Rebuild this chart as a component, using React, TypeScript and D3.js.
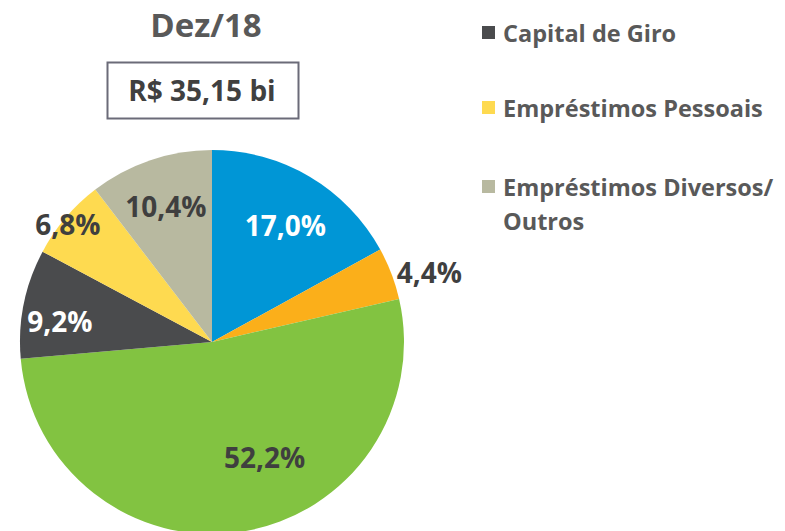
import React from "react";
import * as d3 from "d3";

const categories = ["Cat A", "Cat B", "Cat C", "Capital de Giro", "Empréstimos Pessoais", "Empréstimos Diversos/Outros"];
const values = [17.0, 4.4, 52.2, 9.2, 6.8, 10.4];
const colors = ["#0096D6", "#FBAF1A", "#82C341", "#4A4B4D", "#FEDA50", "#B8B9A0"];
const labelColors = ["#FFFFFF", "#3F3F3F", "#3F3F3F", "#FFFFFF", "#3F3F3F", "#3F3F3F"];
const labelRadius = [0.72, 1.19, 0.66, 0.8, 0.97, 0.75];
const labelAngleShift = [1.4, 3, -15.5, -3.5, -1, 0];
const legendItems = [
  { lines: ["Capital de Giro"], color: "#4A4B4D" },
  { lines: ["Empréstimos Pessoais"], color: "#FEDA50" },
  { lines: ["Empréstimos Diversos/", "Outros"], color: "#B8B9A0" },
];
const title = "Dez/18";
const subtitle = "R$ 35,15 bi";

const FONT = "'Open Sans', sans-serif";

export default function App() {
  const W = 785, H = 531;
  const cx = 212, cy = 342, R = 192;
  const pie = d3.pie<number>().sort(null).value((d) => d);
  const arcs = pie(values);
  const arc = d3.arc<d3.PieArcDatum<number>>().innerRadius(0).outerRadius(R);
  const fmt = (v: number) => v.toFixed(1).replace(".", ",") + "%";
  const legendY = [33, 108, 187];
  return (
    <svg width={W} height={H} style={{ position: "absolute", left: 0, top: 0 }} fontFamily={FONT}>
      <rect width={W} height={H} fill="#fff" />
      <text x={206} y={37} textAnchor="middle" fontSize={33} fontWeight={700} fill="#595959">{title}</text>
      <rect x={107.5} y={62.5} width={191} height={56} fill="#fff" stroke="#6B6B78" strokeWidth={2} />
      <text x={202} y={101} textAnchor="middle" fontSize={28} fontWeight={700} fill="#404040">{subtitle}</text>
      <g transform={`translate(${cx},${cy})`}>
        {arcs.map((a, i) => (
          <path key={i} d={arc(a) || ""} fill={colors[i]} />
        ))}
        {arcs.map((a, i) => {
          const ang = (a.startAngle + a.endAngle) / 2 + (labelAngleShift[i] * Math.PI) / 180;
          const r = R * labelRadius[i];
          const x = r * Math.sin(ang);
          const y = -r * Math.cos(ang);
          return (
            <text key={i} x={x} y={y} textAnchor="middle" dominantBaseline="central" fontSize={28} fontWeight={700} fill={labelColors[i]}>
              {fmt(values[i])}
            </text>
          );
        })}
      </g>
      {legendItems.map((it, i) => (
        <g key={i}>
          <rect x={482} y={legendY[i] - 7} width={13} height={13} fill={it.color} />
          {it.lines.map((l, j) => (
            <text key={j} x={503} y={legendY[i] + j * 34} dominantBaseline="central" fontSize={23.5} fontWeight={700} fill="#595959">{l}</text>
          ))}
        </g>
      ))}
    </svg>
  );
}
